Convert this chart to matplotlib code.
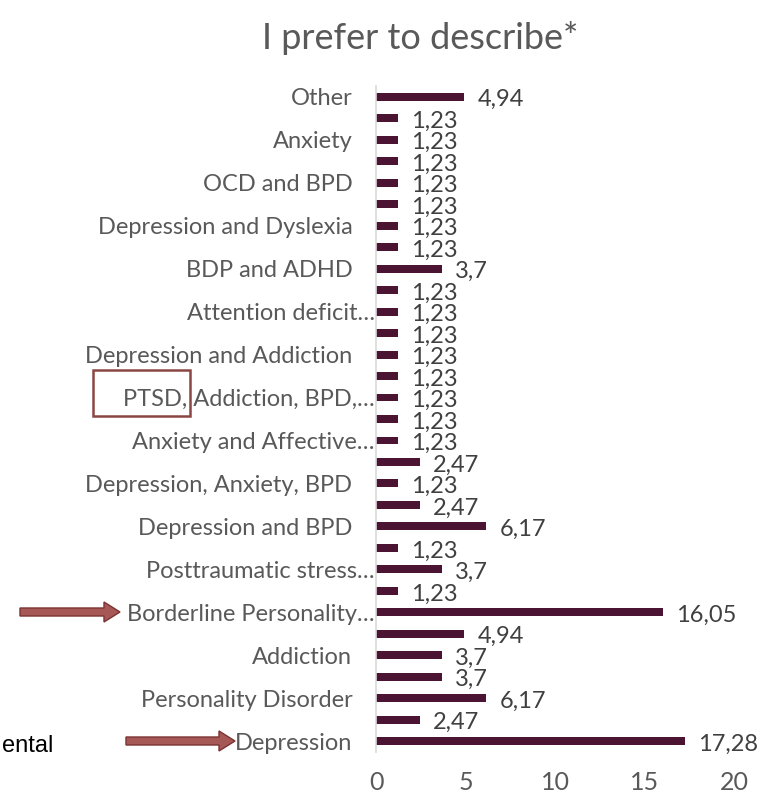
import matplotlib
matplotlib.use("Agg")
import matplotlib.pyplot as plt
from matplotlib.patches import FancyArrow, Rectangle

# data, top bar first
labels = [
    "Other", "", "Anxiety", "", "OCD and BPD", "", "Depression and Dyslexia", "",
    "BDP and ADHD", "", "Attention deficit\u2026", "", "Depression and Addiction", "",
    "PTSD, Addiction, BPD,\u2026", "", "Anxiety and Affective\u2026", "",
    "Depression, Anxiety, BPD", "", "Depression and BPD", "", "Posttraumatic stress\u2026", "",
    "Borderline Personality\u2026", "", "Addiction", "", "Personality Disorder", "", "Depression",
]
values = [
    4.94, 1.23, 1.23, 1.23, 1.23, 1.23, 1.23, 1.23,
    3.7, 1.23, 1.23, 1.23, 1.23, 1.23,
    1.23, 1.23, 1.23, 2.47,
    1.23, 2.47, 6.17, 1.23, 3.7, 1.23,
    16.05, 4.94, 3.7, 3.7, 6.17, 2.47, 17.28,
]
xticks = [0, 5, 10, 15, 20]
title = "I prefer to describe*"

bar_color = "#4b1433"
text_color = "#595959"
font = "Lato"

W, H = 761, 795
fig = plt.figure(figsize=(W / 100, H / 100), dpi=100)
ax = fig.add_axes([376 / W, 1 - 752 / H, (734 - 376) / W, (752 - 86) / H])

ypos = list(range(len(values)))
ax.barh(ypos, values, height=0.37, color=bar_color)
ax.set_ylim(len(values) - 0.5, -0.5)
ax.set_xlim(0, 20)

for y, v in zip(ypos, values):
    ax.annotate(str(v).replace(".", ","), (v, y), xytext=(13, -3),
                textcoords="offset pixels", ha="left", va="center",
                fontsize=17, color="#404040", family=font)

ax.set_yticks(ypos)
ax.set_yticklabels(labels, fontsize=17, color=text_color, family=font)
ax.tick_params(axis="y", length=0)
for tick, lab in zip(ax.yaxis.get_major_ticks(), labels):
    tick.set_pad(1 if lab.endswith("\u2026") else 17)

ax.set_xticks(xticks)
ax.set_xticklabels([str(t) for t in xticks], fontsize=18, color=text_color, family=font)
ax.tick_params(axis="x", length=0, pad=14)

for s in ["top", "right", "bottom"]:
    ax.spines[s].set_visible(False)
ax.spines["left"].set_color("#d9d9d9")
ax.spines["left"].set_linewidth(1.2)

fig.text(420 / W, 1 - 38 / H, title, ha="center", va="center",
         fontsize=26, color=text_color, family=font)

# slide annotations: arrows and box
arrow_kw = dict(width=8 / H, head_width=20 / H, head_length=16 / W,
                length_includes_head=True, facecolor="#a65856",
                edgecolor="#7a3331", linewidth=1, transform=fig.transFigure)
fig.patches.append(FancyArrow(20 / W, 1 - 612 / H, 100 / W, 0, **arrow_kw))
fig.patches.append(FancyArrow(126 / W, 1 - 741 / H, 109 / W, 0, **arrow_kw))
fig.patches.append(Rectangle((93 / W, 1 - 416 / H), 97 / W, 46 / H, fill=False,
                             edgecolor="#8a4643", linewidth=1.8,
                             transform=fig.transFigure))

fig.text(2 / W, 1 - 746 / H, "ental", ha="left", va="center",
         fontsize=17, color="black", family="Liberation Sans")

fig.savefig("out.png", dpi=100)
